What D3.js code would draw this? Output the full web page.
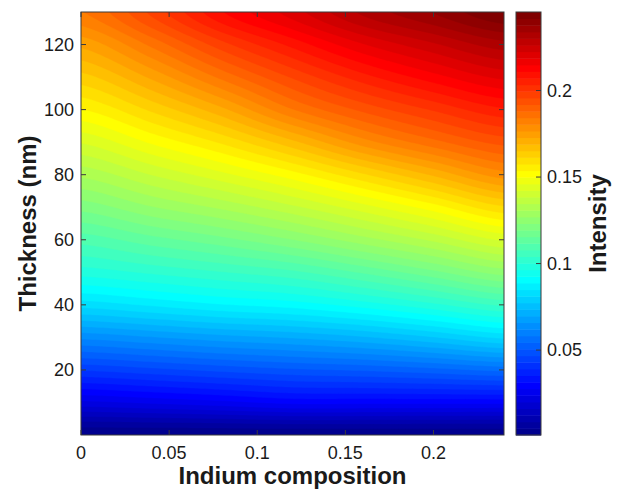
<!DOCTYPE html>
<html>
<head>
<meta charset="utf-8">
<script src="https://cdn.jsdelivr.net/npm/d3@7"></script>
<style>
  body { margin: 0; background: #fff; }
  text { font-family: Arial, "Liberation Sans", sans-serif; fill: #1a1a1a; }
</style>
</head>
<body>
<svg id="chart" width="618" height="489"></svg>
<script>
// Indium composition (x) and layer thickness in nm (y) of the sampled grid
const composition = [0, 0.04, 0.08, 0.12, 0.16, 0.20, 0.24];
const thickness = [0, 10, 20, 30, 40, 50, 60, 70, 80, 90, 100, 110, 120, 130];

// Intensity, one row per thickness, one column per composition
const intensity = [
  [0.0009, 0.0009, 0.0009, 0.0009, 0.0009, 0.0009, 0.0009],
  [0.0228, 0.0245, 0.0264, 0.0287, 0.0287, 0.0287, 0.0287],
  [0.0433, 0.0455, 0.0478, 0.0498, 0.0511, 0.0530, 0.0554],
  [0.0630, 0.0655, 0.0681, 0.0701, 0.0729, 0.0770, 0.0819],
  [0.0827, 0.0855, 0.0884, 0.0905, 0.0943, 0.0992, 0.1047],
  [0.0981, 0.1009, 0.1038, 0.1069, 0.1122, 0.1182, 0.1248],
  [0.1094, 0.1139, 0.1180, 0.1230, 0.1291, 0.1354, 0.1427],
  [0.1207, 0.1266, 0.1316, 0.1375, 0.1444, 0.1519, 0.1607],
  [0.1317, 0.1385, 0.1449, 0.1520, 0.1607, 0.1696, 0.1786],
  [0.1426, 0.1505, 0.1582, 0.1679, 0.1786, 0.1867, 0.1933],
  [0.1535, 0.1621, 0.1718, 0.1840, 0.1929, 0.2000, 0.2065],
  [0.1637, 0.1736, 0.1853, 0.1962, 0.2056, 0.2132, 0.2196],
  [0.1738, 0.1852, 0.1980, 0.2084, 0.2183, 0.2256, 0.2323],
  [0.1840, 0.1967, 0.2107, 0.2206, 0.2310, 0.2380, 0.2454]
];

const xTicks = [0, 0.05, 0.1, 0.15, 0.2];
const xTickLabels = ["0", "0.05", "0.1", "0.15", "0.2"];
const yTicks = [20, 40, 60, 80, 100, 120];
const cbTicks = [0.05, 0.1, 0.15, 0.2];
const cbTickLabels = ["0.05", "0.1", "0.15", "0.2"];
const nColors = 64;

// ---- layout ----
const plot = { left: 81, right: 504, top: 12, bottom: 435 };
const cbar = { left: 516, right: 541 };
const axisColor = "#3a3a3a";
const tickLen = 5;

const svg = d3.select("#chart");

const x = d3.scaleLinear().domain([composition[0], composition[composition.length - 1]])
  .range([plot.left, plot.right]);
const y = d3.scaleLinear().domain([thickness[0], thickness[thickness.length - 1]])
  .range([plot.bottom, plot.top]);

// MATLAB-style jet colormap with m entries
function jetColors(m) {
  const n = Math.ceil(m / 4);
  const u = [];
  for (let i = 1; i <= n; i++) u.push(i / n);
  for (let i = 1; i < n; i++) u.push(1);
  for (let i = n; i >= 1; i--) u.push(i / n);
  const J = Array.from({ length: m }, () => [0, 0, 0]);
  const g0 = Math.ceil(n / 2) - (m % 4 === 1 ? 1 : 0);
  u.forEach((val, i) => {
    const g = g0 + i + 1, r = g + n, b = g - n;
    if (g >= 1 && g <= m) J[g - 1][1] = val;
    if (r >= 1 && r <= m) J[r - 1][0] = val;
    if (b >= 1 && b <= m) J[b - 1][2] = val;
  });
  return J.map(c => d3.rgb(c[0] * 255, c[1] * 255, c[2] * 255).formatHex());
}
const palette = jetColors(nColors);

const allValues = intensity.flat();
const [vMin, vMax] = d3.extent(allValues);
const levels = d3.range(nColors).map(k => vMin + k * (vMax - vMin) / nColors);

// ---- smooth resampling of the grid (separable Catmull-Rom) ----
function cr(p0, p1, p2, p3, t) {
  const t2 = t * t, t3 = t2 * t;
  return 0.5 * ((2 * p1) + (-p0 + p2) * t + (2 * p0 - 5 * p1 + 4 * p2 - p3) * t2 +
    (-p0 + 3 * p1 - 3 * p2 + p3) * t3);
}
function sampleAxis(arr, pos) {
  // pos in fractional index units
  const n = arr.length;
  let i = Math.floor(pos);
  if (i >= n - 1) i = n - 2;
  if (i < 0) i = 0;
  const t = pos - i;
  const at = k => arr[Math.max(0, Math.min(n - 1, k))];
  return cr(at(i - 1), at(i), at(i + 1), at(i + 2), t);
}
const NX = 121, NY = 131;
const xStep = (composition.length - 1) / (NX - 1);
const yStep = (thickness.length - 1) / (NY - 1);
// resample along composition for each thickness row
const rowsFine = intensity.map(row => d3.range(NX).map(i => sampleAxis(row, i * xStep)));
const grid = new Float64Array(NX * NY);
for (let i = 0; i < NX; i++) {
  const col = rowsFine.map(r => r[i]);
  for (let j = 0; j < NY; j++) {
    grid[j * NX + i] = sampleAxis(col, j * yStep);
  }
}

const contours = d3.contours().size([NX, NY]).thresholds(levels)(grid);

const xDomain = x.domain(), yDomain = y.domain();
const gridProj = d3.geoTransform({
  point(gx, gy) {
    const cx = xDomain[0] + (gx - 0.5) / (NX - 1) * (xDomain[1] - xDomain[0]);
    const cy = yDomain[0] + (gy - 0.5) / (NY - 1) * (yDomain[1] - yDomain[0]);
    this.stream.point(x(cx), y(cy));
  }
});
const path = d3.geoPath(gridProj);

svg.append("defs").append("clipPath").attr("id", "plot-clip")
  .append("rect")
  .attr("x", plot.left).attr("y", plot.top)
  .attr("width", plot.right - plot.left).attr("height", plot.bottom - plot.top);

svg.append("g").attr("clip-path", "url(#plot-clip)")
  .selectAll("path")
  .data(contours)
  .join("path")
  .attr("d", path)
  .attr("fill", (d, i) => palette[i])
  .attr("stroke", (d, i) => palette[i])
  .attr("stroke-width", 0.4);

// ---- axes box with inward ticks on all four sides ----
const axes = svg.append("g");
axes.append("rect")
  .attr("x", plot.left).attr("y", plot.top)
  .attr("width", plot.right - plot.left).attr("height", plot.bottom - plot.top)
  .attr("fill", "none").attr("stroke", axisColor).attr("stroke-width", 1);

xTicks.forEach((t, i) => {
  const px = x(t);
  axes.append("line").attr("x1", px).attr("x2", px)
    .attr("y1", plot.bottom).attr("y2", plot.bottom - tickLen)
    .attr("stroke", axisColor);
  axes.append("line").attr("x1", px).attr("x2", px)
    .attr("y1", plot.top).attr("y2", plot.top + tickLen)
    .attr("stroke", axisColor);
  axes.append("text").attr("x", px).attr("y", 459)
    .attr("text-anchor", "middle").attr("font-size", 18)
    .text(xTickLabels[i]);
});

yTicks.forEach(t => {
  const py = y(t);
  axes.append("line").attr("x1", plot.left).attr("x2", plot.left + tickLen)
    .attr("y1", py).attr("y2", py).attr("stroke", axisColor);
  axes.append("line").attr("x1", plot.right).attr("x2", plot.right - tickLen)
    .attr("y1", py).attr("y2", py).attr("stroke", axisColor);
  axes.append("text").attr("x", plot.left - 7).attr("y", py)
    .attr("text-anchor", "end").attr("dominant-baseline", "central")
    .attr("font-size", 18)
    .text(t);
});

svg.append("text")
  .attr("x", (plot.left + plot.right) / 2).attr("y", 484)
  .attr("text-anchor", "middle").attr("font-size", 24).attr("font-weight", "bold")
  .text("Indium composition");

svg.append("text")
  .attr("transform", `translate(36,${(plot.top + plot.bottom) / 2}) rotate(-90)`)
  .attr("text-anchor", "middle").attr("font-size", 24).attr("font-weight", "bold")
  .text("Thickness (nm)");

// ---- colorbar ----
const cb = d3.scaleLinear().domain([vMin, vMax]).range([plot.bottom, plot.top]);
const cbG = svg.append("g");
cbG.selectAll("rect.band")
  .data(levels)
  .join("rect")
  .attr("class", "band")
  .attr("x", cbar.left)
  .attr("width", cbar.right - cbar.left)
  .attr("y", (d, i) => cb(i + 1 < nColors ? levels[i + 1] : vMax))
  .attr("height", (d, i) => cb(d) - cb(i + 1 < nColors ? levels[i + 1] : vMax) + 0.5)
  .attr("fill", (d, i) => palette[i]);
cbG.append("rect")
  .attr("x", cbar.left).attr("y", plot.top)
  .attr("width", cbar.right - cbar.left).attr("height", plot.bottom - plot.top)
  .attr("fill", "none").attr("stroke", axisColor).attr("stroke-width", 1);
cbTicks.forEach((t, i) => {
  const py = cb(t);
  cbG.append("line").attr("x1", cbar.right).attr("x2", cbar.right - tickLen)
    .attr("y1", py).attr("y2", py).attr("stroke", axisColor);
  cbG.append("text").attr("x", cbar.right + 6).attr("y", py)
    .attr("dominant-baseline", "central").attr("font-size", 18)
    .text(cbTickLabels[i]);
});
svg.append("text")
  .attr("transform", `translate(606,${(plot.top + plot.bottom) / 2}) rotate(-90)`)
  .attr("text-anchor", "middle").attr("font-size", 24).attr("font-weight", "bold")
  .text("Intensity");
</script>
</body>
</html>
